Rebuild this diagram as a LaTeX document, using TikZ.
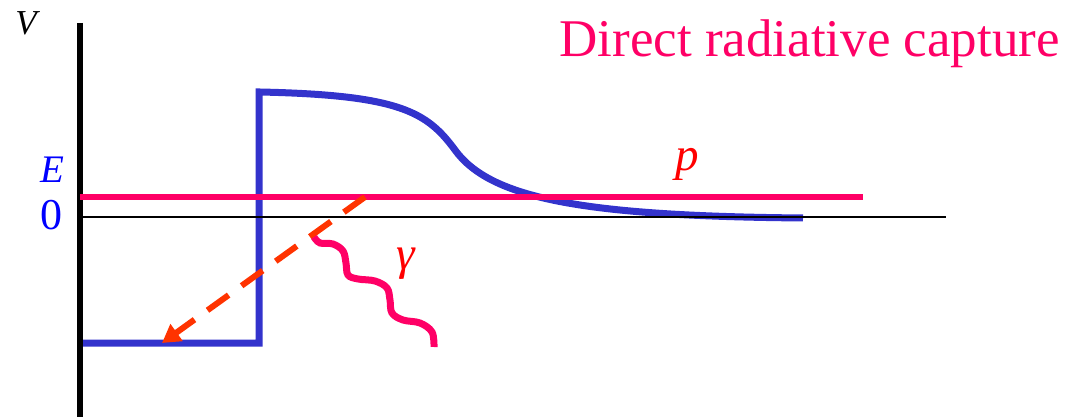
\documentclass[tikz,border=0pt]{standalone}
\usepackage{fontspec}
\setmainfont{Liberation Serif}
\usetikzlibrary{arrows.meta}
\definecolor{pot}{HTML}{3333CC}
\definecolor{prot}{HTML}{FF0066}
\definecolor{gam}{HTML}{FF3300}
\begin{document}
\begin{tikzpicture}[x=0.5pt,y=-0.5pt,
  potl/.style={pot,line width=3.5pt},
  beam/.style={prot,line width=3pt},
  decay/.style={gam,line width=3pt,dash pattern=on 13pt off 8pt,-{Triangle[length=9pt,width=10pt]}},
  wave/.style={prot,line width=3.5pt},
  lbl/.style={inner sep=0pt,anchor=base west}]
\useasboundingbox (0,0) rectangle (1067,417);
% potential
\draw[potl,line join=miter] (82,343)--(259,343)--(259,92)--(260,92)
  .. controls (400,95) and (427,112) .. (455,150)
  .. controls (490,198) and (580,216) .. (803,218);
% axes
\draw[line width=0.75pt] (80,217)--(946,217);
\draw[line width=3pt] (80,23)--(80,417);
% incoming proton
\draw[beam] (80,197)--(863,197);
% capture
\coordinate (start) at (365,197);
\coordinate (bound) at (162,343);
\draw[decay] (start)--(bound);
\draw[wave,line cap=butt] plot[smooth,tension=0.6] coordinates {(314,237) (320,243) (333,244) (343,251) (346,263) (348,275) (358,279) (375,281) (387,288) (390,300) (392,313) (403,320) (420,323) (432,332) (434,347)};
% labels
\node[lbl,font=\fontsize{17.5}{20}\selectfont\itshape] (vlab) at (15,35) {V};
\node[lbl,font=\fontsize{19.5}{22}\selectfont\itshape,text=blue] (elab) at (40,183) {E};
\node[lbl,font=\fontsize{22}{24}\selectfont,text=blue] (zlab) at (40,230) {0};
\node[lbl,font=\fontsize{23.5}{26}\selectfont\itshape,text=red] (plab) at (675,170) {p};
\node[lbl,font=\fontsize{23.5}{26}\selectfont\itshape,text=red] (glab) at (396,270) {γ};
\node[lbl,font=\fontsize{26.5}{30}\selectfont,text=prot] (title) at (559,57) {Direct radiative capture};
\end{tikzpicture}
\end{document}
